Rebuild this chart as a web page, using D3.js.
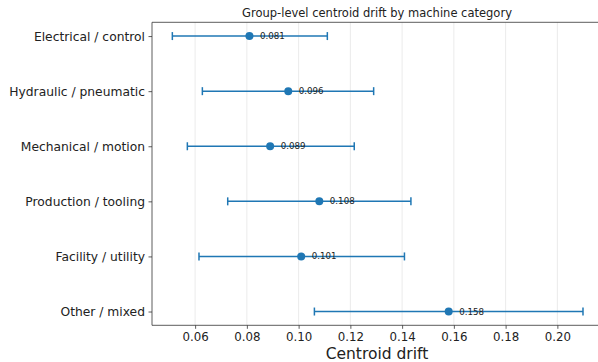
<!DOCTYPE html>
<html><head><meta charset="utf-8">
<script src="https://cdn.jsdelivr.net/npm/d3@7"></script>
<style>body{margin:0;background:#fff}svg{display:block;font-family:"DejaVu Sans",sans-serif}</style>
</head><body><svg id="c" width="598" height="362"></svg>
<script>
const categories = ["Electrical / control","Hydraulic / pneumatic","Mechanical / motion","Production / tooling","Facility / utility","Other / mixed"];
const centroids = [0.081,0.096,0.089,0.108,0.101,0.158];
const lowers = [0.0512,0.0628,0.0570,0.0726,0.0615,0.1061];
const uppers = [0.1111,0.1290,0.1215,0.1434,0.1409,0.2099];
const xTicks = [0.06,0.08,0.10,0.12,0.14,0.16,0.18,0.20];

const svg = d3.select("#c");
const L=152, R=598, T=22.3, B=325.3;
const x = d3.scaleLinear().domain([0.04334,0.21570]).range([L,R]);
const y = d3.scaleLinear().domain([-0.25,5.25]).range([T,B]);
const color="#1f77b4";

// grid
svg.append("g").selectAll("line").data(xTicks).join("line")
 .attr("x1",d=>x(d)).attr("x2",d=>x(d)).attr("y1",T).attr("y2",B)
 .attr("stroke","#e6e6e6").attr("stroke-width",0.8);

// axes
const xa = svg.append("g").attr("transform",`translate(0,${B})`)
 .call(d3.axisBottom(x).tickValues(xTicks).tickFormat(d3.format(".2f")).tickSizeOuter(0).tickSize(3.5).tickPadding(3.5));
const ya = svg.append("g").attr("transform",`translate(${L},0)`)
 .call(d3.axisLeft(y).tickValues(d3.range(categories.length)).tickFormat(i=>categories[i]).tickSizeOuter(0).tickSize(3.5).tickPadding(3.5));
[xa,ya].forEach(a=>{a.select(".domain").remove();a.selectAll("text").attr("fill","#222").attr("font-family","DejaVu Sans");a.selectAll("line").attr("stroke","#333").attr("stroke-width",0.8);});
xa.selectAll("text").attr("font-size",11.8);
ya.selectAll("text").attr("font-size",12.3);
// spines
svg.append("line").attr("x1",L).attr("x2",L).attr("y1",T).attr("y2",B).attr("stroke","#333").attr("stroke-width",0.8);
svg.append("line").attr("x1",L).attr("x2",R).attr("y1",B).attr("y2",B).attr("stroke","#333").attr("stroke-width",0.8);
svg.append("line").attr("x1",L).attr("x2",R).attr("y1",T).attr("y2",T).attr("stroke","#333").attr("stroke-width",0.8);

const data = categories.map((c,i)=>({c,i,v:centroids[i],lo:lowers[i],hi:uppers[i]}));
const g = svg.append("g");
g.selectAll(".eb").data(data).join("line").attr("x1",d=>x(d.lo)).attr("x2",d=>x(d.hi))
 .attr("y1",d=>y(d.i)).attr("y2",d=>y(d.i)).attr("stroke",color).attr("stroke-width",1.5);
["lo","hi"].forEach(k=>{
 g.selectAll(".cap"+k).data(data).join("line").attr("x1",d=>x(d[k])).attr("x2",d=>x(d[k]))
  .attr("y1",d=>y(d.i)-4).attr("y2",d=>y(d.i)+4).attr("stroke",color).attr("stroke-width",1.5);
});
g.selectAll("circle").data(data).join("circle").attr("cx",d=>x(d.v)).attr("cy",d=>y(d.i)).attr("r",4).attr("fill",color);
g.selectAll(".lbl").data(data).join("text").attr("x",d=>x(d.v)+10.5).attr("y",d=>y(d.i)).attr("dy","0.35em")
 .attr("font-size",8.7).attr("fill","#222").text(d=>d3.format(".3f")(d.v));

svg.append("text").attr("x",(L+R)/2+2).attr("y",16.7).attr("text-anchor","middle").attr("font-size",11.5).attr("fill","#222")
 .text("Group-level centroid drift by machine category");
svg.append("text").attr("x",(L+R)/2+2).attr("y",359.3).attr("text-anchor","middle").attr("font-size",15.5).attr("fill","#222")
 .text("Centroid drift");
</script></body></html>
